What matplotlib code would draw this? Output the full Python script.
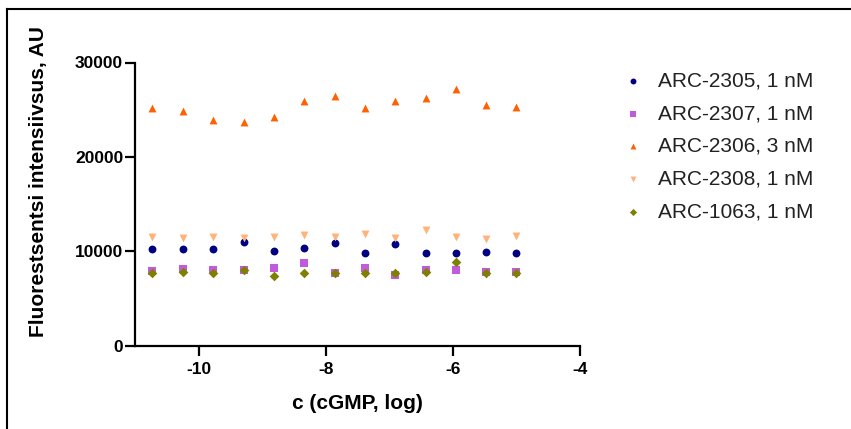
import matplotlib.pyplot as plt
from matplotlib.lines import Line2D

plt.rcParams['font.family'] = ['Liberation Sans', 'DejaVu Sans']
plt.rcParams['axes.unicode_minus'] = False

# log10 of cGMP concentration (3-fold dilutions)
log_c = [-10.73, -10.25, -9.77, -9.29, -8.82, -8.34, -7.86, -7.38, -6.91, -6.43, -5.95, -5.48, -5.00]

arc_2305 = [10260, 10200, 10260, 10940, 9990, 10370, 10830, 9810, 10790, 9810, 9810, 9910, 9770]
arc_2307 = [7930, 8110, 8000, 8000, 8250, 8780, 7720, 8180, 7510, 8000, 8000, 7820, 7820]
arc_2306 = [25210, 24890, 23900, 23660, 24190, 25890, 26480, 25210, 25890, 26200, 27190, 25530, 25320]
arc_2308 = [11530, 11370, 11530, 11370, 11470, 11680, 11530, 11820, 11370, 12240, 11470, 11260, 11640]
arc_1063 = [7720, 7790, 7720, 7970, 7400, 7690, 7650, 7650, 7720, 7760, 8880, 7650, 7720]

series = [
    ('ARC-2305, 1 nM', arc_2305, 'o', '#000080'),
    ('ARC-2307, 1 nM', arc_2307, 's', '#C05CDC'),
    ('ARC-2306, 3 nM', arc_2306, '^', '#FF6000'),
    ('ARC-2308, 1 nM', arc_2308, 'v', '#FFB27A'),
    ('ARC-1063, 1 nM', arc_1063, 'D', '#808000'),
]

fig = plt.figure(figsize=(8.51, 4.29), dpi=100)
ax = fig.add_axes([135 / 851, 83.5 / 429, 445 / 851, 283 / 429])

for label, vals, marker, color in series:
    size = 32 if marker != 'D' else 24
    ax.scatter(log_c, vals, marker=marker, s=size, color=color, label=label,
               linewidths=0, clip_on=False)

ax.set_xlim(-11, -4)
ax.set_ylim(0, 30000)
ax.set_xticks([-10, -8, -6, -4])
ax.set_yticks([0, 10000, 20000, 30000])

for s in ['top', 'right']:
    ax.spines[s].set_visible(False)
for s in ['left', 'bottom']:
    ax.spines[s].set_linewidth(1.6)
ax.tick_params(axis='both', direction='out', length=7, width=1.6,
               labelsize=12.5)
ax.tick_params(axis='y', pad=1.5)
ax.tick_params(axis='x', pad=5)
for t in ax.get_xticklabels() + ax.get_yticklabels():
    t.set_fontweight('bold')

ax.set_xlabel('c (cGMP, log)', fontsize=15, fontweight='bold')
ax.xaxis.set_label_coords(0.5, -0.17)
ax.set_ylabel('Fluorestsentsi intensiivsus, AU', fontsize=15, fontweight='bold')
ax.yaxis.set_label_coords(-0.196, 0.58)

leg = ax.legend(loc='upper left', bbox_to_anchor=(612 / 851, 1 - 63 / 429),
                bbox_transform=fig.transFigure, frameon=False, fontsize=15,
                handletextpad=0.6, labelspacing=0.66, markerscale=0.75,
                handlelength=1.2, borderaxespad=0)
for t in leg.get_texts():
    t.set_color('#222222')

# outer frame (left and top edges)
fig.add_artist(Line2D([7 / 851, 7 / 851], [0, 1 - 9 / 429], color='black', lw=1.5))
fig.add_artist(Line2D([7 / 851, 1], [1 - 9 / 429, 1 - 9 / 429], color='black', lw=1.5))

fig.savefig('out.png', dpi=100)
